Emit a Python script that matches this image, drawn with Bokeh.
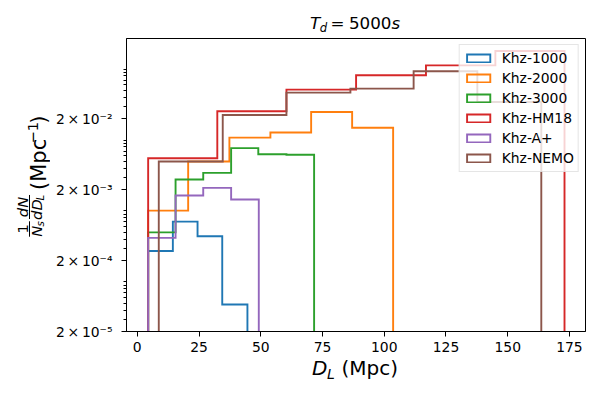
import math
from bokeh.plotting import figure
from bokeh.models import Range1d, FixedTicker, Legend, LegendItem
from bokeh.layouts import column, row
from bokeh.core.properties import value
from bokeh.embed import file_html
from bokeh.resources import INLINE

# ---------------- data ----------------
series_names = ["Khz-1000", "Khz-2000", "Khz-3000", "Khz-HM18", "Khz-A+", "Khz-NEMO"]
series_colors = ["#1f77b4", "#ff7f0e", "#2ca02c", "#d62728", "#9467bd", "#8c564b"]

khz1000_edges = [4.4, 14.4, 24.4, 34.4, 44.6]
khz1000_vals = [2.73e-4, 7.08e-4, 4.40e-4, 4.81e-5]

khz2000_edges = [4.4, 20.6, 37.3, 53.9, 70.4, 87.0, 103.6]
khz2000_vals = [1.01e-3, 4.99e-3, 1.08e-2, 1.28e-2, 2.48e-2, 1.49e-2]

khz3000_edges = [4.4, 15.5, 26.7, 38.0, 49.0, 60.4, 71.6]
khz3000_vals = [5.0e-4, 2.78e-3, 3.45e-3, 7.69e-3, 6.3e-3, 6.2e-3]

khzhm18_edges = [4.4, 32.4, 60.4, 88.6, 116.9, 145.0, 173.0]
khzhm18_vals = [5.55e-3, 2.54e-2, 5.14e-2, 8.18e-2, 0.113, 0.18]

khzaplus_edges = [4.4, 15.5, 26.7, 38.0, 49.2]
khzaplus_vals = [4.17e-4, 1.65e-3, 2.12e-3, 1.45e-3]

khznemo_edges = [8.7, 34.6, 60.4, 86.3, 111.9, 137.7, 163.6]
khznemo_vals = [4.99e-3, 2.25e-2, 4.66e-2, 5.31e-2, 9.31e-2, 3.43e-2]

x_ticks = [0, 25, 50, 75, 100, 125, 150, 175]
y_ticks = [2e-5, 2e-4, 2e-3, 2e-2]
y_tick_labels = ["2\u2009×\u200910⁻⁵", "2\u2009×\u200910⁻⁴", "2\u2009×\u200910⁻³", "2\u2009×\u200910⁻²"]

all_edges = [khz1000_edges, khz2000_edges, khz3000_edges, khzhm18_edges, khzaplus_edges, khznemo_edges]
all_vals = [khz1000_vals, khz2000_vals, khz3000_vals, khzhm18_vals, khzaplus_vals, khznemo_vals]

FONT = "DejaVu Sans"

# ---------------- main plot ----------------
p = figure(width=550, height=323, y_axis_type="log",
           x_range=Range1d(-4.37, 181.5), y_range=Range1d(2e-5, 0.27),
           output_backend="svg", toolbar_location=None,
           min_border_left=76, min_border_right=15, min_border_top=4, min_border_bottom=26)
p.xgrid.visible = False
p.ygrid.visible = False
p.outline_line_color = "black"
p.outline_line_width = 1
p.outline_line_alpha = 1
p.background_fill_color = "white"
p.border_fill_color = "white"

FLOOR = 1e-9
items = []
for name, color, edges, vals in zip(series_names, series_colors, all_edges, all_vals):
    xs = [edges[0]]
    ys = [FLOOR]
    for i, v in enumerate(vals):
        xs += [edges[i], edges[i + 1]]
        ys += [v, v]
    xs.append(edges[-1])
    ys.append(FLOOR)
    r = p.patch(xs, ys, fill_color=None, line_color=color, line_width=1.9, line_join="miter")
    items.append(LegendItem(label=name, renderers=[r]))

legend = Legend(items=items, location="top_right")
legend.margin = 6
legend.padding = 4
legend.spacing = 2
legend.label_height = 18
legend.glyph_width = 29
legend.glyph_height = 10
legend.label_standoff = 9
legend.label_text_font = FONT
legend.label_text_font_size = "13.9px"
legend.label_text_color = "black"
legend.background_fill_color = "white"
legend.background_fill_alpha = 0.8
legend.border_line_color = "#cccccc"
legend.border_line_width = 1
p.add_layout(legend, "center")

for ax in (p.xaxis[0], p.yaxis[0]):
    ax.axis_line_color = "black"
    ax.major_tick_line_color = "black"
    ax.major_tick_out = 5
    ax.major_tick_in = 0
    ax.minor_tick_out = 3
    ax.minor_tick_in = 0
    ax.major_label_text_font = FONT
    ax.major_label_text_font_size = "13.9px"
    ax.major_label_text_color = "black"

p.xaxis.ticker = FixedTicker(ticks=x_ticks)
p.xaxis.minor_tick_line_color = None
p.xaxis.major_label_standoff = 5

y_minor = [k * 10.0 ** e for e in range(-5, 0) for k in range(1, 10) if k != 2]
p.yaxis.ticker = FixedTicker(ticks=y_ticks, minor_ticks=y_minor)
p.yaxis.major_label_overrides = dict(zip(y_ticks, y_tick_labels))
p.yaxis.minor_tick_line_color = "black"
p.yaxis.major_label_standoff = 9


# ---------------- text strips (title, axis labels) ----------------
def strip(w, h):
    f = figure(width=w, height=h, x_range=Range1d(0, w), y_range=Range1d(0, h),
               output_backend="svg", toolbar_location=None,
               x_axis_type=None, y_axis_type=None,
               min_border_left=0, min_border_right=0, min_border_top=0, min_border_bottom=0)
    f.outline_line_color = None
    f.background_fill_color = "white"
    f.border_fill_color = "white"
    return f


MID = 0.346  # distance from em-box middle to the alphabetic baseline, in em


def txt(f, top, text, X, Y, size, italic=False, angle=0.0, align="left", on_baseline=True):
    # (X, Y) in picture pixels; Y measured from the top of the page; top = strip's top edge.
    # With on_baseline, (X, Y) is a point of the text baseline; the glyph's anchor is the em middle.
    if on_baseline:
        if angle:
            X = X - MID * size
        else:
            Y = Y - MID * size
    h = f.height
    f.text(x=[X], y=[h - (Y - top)], text=[text], text_font=value(FONT),
           text_font_size=value(f"{size}px"),
           text_font_style="italic" if italic else "normal",
           text_color="black", angle=angle, text_align=align, text_baseline="middle")


# title strip: picture y 0..34
tf = strip(600, 34)
txt(tf, 0, "T", 309.5, 28.3, 16.7, italic=True)
txt(tf, 0, "d", 319.3, 31.8, 11.7, italic=True)
txt(tf, 0, "=", 330.0, 28.3, 16.7)
txt(tf, 0, "5000", 348.5, 28.3, 16.7)
txt(tf, 0, "s", 391.0, 28.3, 16.7, italic=True)

# x label strip: picture y 357..400
XT = 357
xf = strip(600, 43)
txt(xf, XT, "D", 311.5, 374.0, 20, italic=True)
txt(xf, XT, "L", 326.5, 378.5, 14, italic=True)
txt(xf, XT, "(Mpc)", 341.0, 374.0, 20)

# y label strip: picture x 0..50, y 34..357 (text rotated to read upwards)
YT = 34
yf = strip(50, 323)
A = math.pi / 2
S = -3.0  # shift along the label
txt(yf, YT, "1", 22.0, 246.8 + S, 14.7, angle=A, align="center", on_baseline=False)
txt(yf, YT, "N", 35.5, 249.5 + S, 14.7, italic=True, angle=A, align="center", on_baseline=False)
txt(yf, YT, "s", 39.5, 241.3 + S, 10.3, italic=True, angle=A, align="center", on_baseline=False)
txt(yf, YT, "dN", 22.0, 222.8 + S, 14.7, italic=True, angle=A, align="center", on_baseline=False)
txt(yf, YT, "dD", 35.5, 225.6 + S, 14.7, italic=True, angle=A, align="center", on_baseline=False)
txt(yf, YT, "L", 39.5, 212.4 + S, 10.3, italic=True, angle=A, align="center", on_baseline=False)
hh = yf.height
yf.segment(x0=[29.0, 29.0], y0=[hh - (255.5 + S - YT), hh - (236.0 + S - YT)],
           x1=[29.0, 29.0], y1=[hh - (238.5 + S - YT), hh - (209.5 + S - YT)],
           line_color="black", line_width=1)
txt(yf, YT, "(Mpc", 46.0, 204.0 + S, 21, angle=A)
txt(yf, YT, "−1", 38.0, 152.8 + S, 14.7, angle=A)
txt(yf, YT, ")", 46.0, 131.1 + S, 21, angle=A)

layout = column(tf, row(yf, p), xf)
open("out.html", "w").write(file_html(layout, INLINE))
